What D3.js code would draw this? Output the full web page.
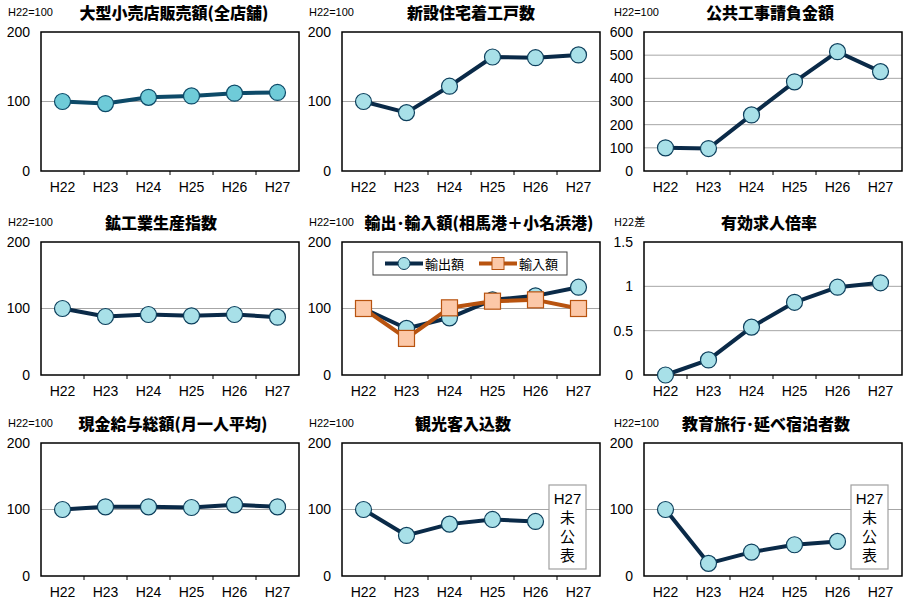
<!DOCTYPE html>
<html>
<head>
<meta charset="utf-8">
<script src="https://cdn.jsdelivr.net/npm/d3@7"></script>
<style>
  body { margin: 0; background: #fff; }
  svg { display: block; }
</style>
</head>
<body>
<div id="wrapper"></div>
<script>
// DATA
const years = ["H22", "H23", "H24", "H25", "H26", "H27"];

const retailSales = [100, 97, 106, 108, 112, 113];
const housingStarts = [100, 84, 122, 164, 163, 167];
const publicWorks = [100, 97, 242, 385, 515, 429];
const industrialIndex = [100, 88, 91, 89, 91, 87];
const exportValue = [100, 70, 86, 113, 119, 132];
const importValue = [100, 55, 101, 111, 113, 100];
const jobRatio = [0, 0.17, 0.54, 0.82, 0.99, 1.04];
const wages = [100, 104, 104, 103, 107, 104];
const tourists = [100, 61, 78, 85, 82, null];
const schoolTrips = [100, 19, 36, 47, 52, null];

const indexTicks = [0, 100, 200];
const publicTicks = [0, 100, 200, 300, 400, 500, 600];
const ratioTicks = [0, 0.5, 1, 1.5];

const titles = [
  "大型小売店販売額(全店舗)", "新設住宅着工戸数", "公共工事請負金額",
  "鉱工業生産指数", "輸出･輸入額(相馬港＋小名浜港)", "有効求人倍率",
  "現金給与総額(月一人平均)", "観光客入込数", "教育旅行･延べ宿泊者数"
];
const units = ["H22=100", "H22=100", "H22=100", "H22=100", "H22=100", "H22差", "H22=100", "H22=100", "H22=100"];

// LAYOUT
const colLeft = [41, 342, 644];
const rowTop = [32, 242, 443];
const rowBottom = [171, 375, 576];
const plotWidth = 258;
const titleShift = [4, 0, -3, -9, 8, -4, 3, -8, -7];

const navy = "#0a2a48";
const lightCyan = "#a8e0e8";

const panels = [
  { series: [{ values: retailSales, line: "#0d4a68", fill: "#6fcbd8", stroke: "#0d4a68" }], max: 200, ticks: indexTicks, grid: [100] },
  { series: [{ values: housingStarts }], max: 200, ticks: indexTicks, grid: [100] },
  { series: [{ values: publicWorks }], max: 600, ticks: publicTicks, grid: [100, 200, 300, 400, 500] },
  { series: [{ values: industrialIndex }], max: 200, ticks: indexTicks, grid: [100] },
  { series: [
      { values: exportValue, name: "輸出額" },
      { values: importValue, name: "輸入額", line: "#b8530f", fill: "#fcc8a8", stroke: "#b8530f", square: true }
    ], max: 200, ticks: indexTicks, grid: [100], legend: true },
  { series: [{ values: jobRatio }], max: 1.5, ticks: ratioTicks, grid: [0.5, 1] },
  { series: [{ values: wages }], max: 200, ticks: indexTicks, grid: [100] },
  { series: [{ values: tourists }], max: 200, ticks: indexTicks, grid: [100], note: true },
  { series: [{ values: schoolTrips }], max: 200, ticks: indexTicks, grid: [100], note: true }
];

const svg = d3.select("#wrapper").append("svg")
  .attr("width", 903).attr("height", 603);

const numFont = "'Liberation Sans', Arial, sans-serif";
const jpFont = "'Noto Sans CJK JP', sans-serif";

panels.forEach((p, i) => {
  const col = i % 3, row = Math.floor(i / 3);
  const left = colLeft[col], top = rowTop[row], bottom = rowBottom[row];
  const g = svg.append("g");

  const x = d3.scaleBand().domain(years).range([left, left + plotWidth]);
  const y = d3.scaleLinear().domain([0, p.max]).range([bottom, top]);

  // gridlines
  g.selectAll(".grid").data(p.grid).join("line")
    .attr("x1", left).attr("x2", left + plotWidth)
    .attr("y1", d => y(d)).attr("y2", d => y(d))
    .attr("stroke", "#a6a6a6").attr("stroke-width", 1);

  // y axis
  const yAxis = g.append("g")
    .attr("transform", `translate(${left},0)`)
    .call(d3.axisLeft(y).tickValues(p.ticks).tickSize(0).tickPadding(11).tickFormat(d => d3.format("")(d)));
  yAxis.select(".domain").remove();
  yAxis.selectAll("text").attr("font-family", numFont).attr("font-size", 14).attr("fill", "#000");

  // x axis
  const xAxis = g.append("g")
    .attr("transform", `translate(0,${bottom})`)
    .call(d3.axisBottom(x).tickSize(0).tickPadding(11));
  xAxis.select(".domain").remove();
  xAxis.selectAll("text").attr("font-family", numFont).attr("font-size", 14).attr("fill", "#000");
  g.selectAll(".xtick").data(years.slice(1)).join("line")
    .attr("x1", d => x(d)).attr("x2", d => x(d))
    .attr("y1", bottom).attr("y2", bottom + 4)
    .attr("stroke", "#000").attr("stroke-width", 1);

  // plot box
  g.append("rect")
    .attr("x", left).attr("y", top)
    .attr("width", plotWidth).attr("height", bottom - top)
    .attr("fill", "none").attr("stroke", "#000").attr("stroke-width", 1.5);

  // title and unit
  g.append("text")
    .attr("x", left + plotWidth / 2 + titleShift[i]).attr("y", top - 13)
    .attr("text-anchor", "middle")
    .attr("font-family", jpFont).attr("font-weight", 900).attr("font-size", 16)
    .text(titles[i]);
  g.append("text")
    .attr("x", left - 33 + (col === 2 ? 3 : 0)).attr("y", top - 16)
    .attr("font-family", units[i].includes("差") ? jpFont : numFont).attr("font-size", 11)
    .text(units[i]);

  // series
  p.series.forEach(s => {
    const lineColor = s.line || navy;
    const pts = years.map((yr, k) => ({ yr, v: s.values[k] })).filter(d => d.v !== null);
    const cx = d => x(d.yr) + x.bandwidth() / 2;
    g.append("path")
      .datum(pts)
      .attr("d", d3.line().x(cx).y(d => y(d.v)))
      .attr("fill", "none").attr("stroke", lineColor).attr("stroke-width", 4)
      .attr("stroke-linejoin", "round");
    if (s.square) {
      g.selectAll(null).data(pts).join("rect")
        .attr("x", d => cx(d) - 8).attr("y", d => y(d.v) - 8)
        .attr("width", 16).attr("height", 16)
        .attr("fill", s.fill).attr("stroke", s.stroke).attr("stroke-width", 1.2);
    } else {
      g.selectAll(null).data(pts).join("circle")
        .attr("cx", cx).attr("cy", d => y(d.v)).attr("r", 8)
        .attr("fill", s.fill || lightCyan).attr("stroke", s.stroke || "#0d3f5c").attr("stroke-width", 1.2);
    }
  });

  // legend
  if (p.legend) {
    const lx = left + 31, ly = top + 10;
    g.append("rect").attr("x", lx).attr("y", ly).attr("width", 194).attr("height", 23)
      .attr("fill", "#fff").attr("stroke", "#404040").attr("stroke-width", 1);
    const items = [{ s: p.series[0], x0: lx + 12 }, { s: p.series[1], x0: lx + 106 }];
    items.forEach(it => {
      const c = it.s.line || navy, my = ly + 11.5;
      g.append("line").attr("x1", it.x0).attr("x2", it.x0 + 38).attr("y1", my).attr("y2", my)
        .attr("stroke", c).attr("stroke-width", 4);
      if (it.s.square) {
        g.append("rect").attr("x", it.x0 + 13).attr("y", my - 6).attr("width", 12).attr("height", 12)
          .attr("fill", it.s.fill).attr("stroke", it.s.stroke).attr("stroke-width", 1);
      } else {
        g.append("circle").attr("cx", it.x0 + 19).attr("cy", my).attr("r", 6)
          .attr("fill", lightCyan).attr("stroke", "#0d3f5c").attr("stroke-width", 1);
      }
      g.append("text").attr("x", it.x0 + 40).attr("y", my + 5)
        .attr("font-family", jpFont).attr("font-size", 13).text(it.s.name);
    });
  }

  // "H27 未公表" note
  if (p.note) {
    const bx = x("H27") - 8, by = top + 42;
    g.append("rect").attr("x", bx).attr("y", by).attr("width", 37).attr("height", 84)
      .attr("fill", "#fff").attr("stroke", "#a0a0a0").attr("stroke-width", 1.2);
    ["H27", "未", "公", "表"].forEach((t, k) => {
      g.append("text").attr("x", bx + 18.5).attr("y", by + 19 + k * 19)
        .attr("text-anchor", "middle")
        .attr("font-family", k === 0 ? numFont : jpFont).attr("font-size", 15)
        .text(t);
    });
  }
});
</script>
</body>
</html>
